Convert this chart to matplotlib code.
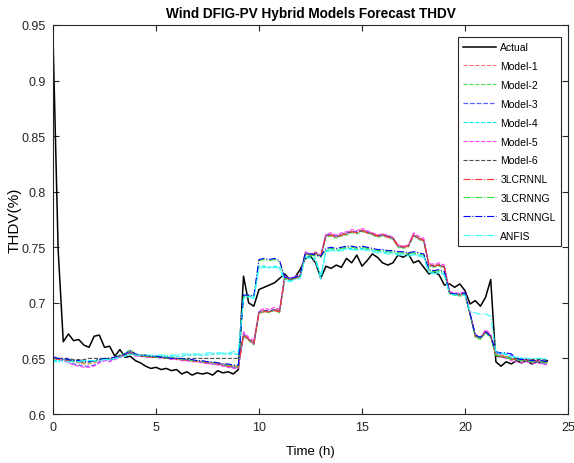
import numpy as np
import matplotlib
matplotlib.use("Agg")
import matplotlib.pyplot as plt
from matplotlib.ticker import FuncFormatter

plt.rcParams['font.family'] = ['Liberation Sans', 'DejaVu Sans']

# time in hours, 15-minute resolution
time_h = np.arange(0, 97) * 0.25

actual = [
    0.940, 0.748, 0.665, 0.672,
    0.666, 0.667, 0.662, 0.660,
    0.670, 0.671, 0.660, 0.661,
    0.652, 0.658, 0.651, 0.652,
    0.648, 0.646, 0.643, 0.641,
    0.642, 0.640, 0.641, 0.639,
    0.640, 0.636, 0.638, 0.635,
    0.637, 0.636, 0.637, 0.635,
    0.639, 0.637, 0.638, 0.636,
    0.640, 0.724, 0.700, 0.697,
    0.712, 0.714, 0.716, 0.718,
    0.722, 0.726, 0.721, 0.723,
    0.730, 0.740, 0.742, 0.736,
    0.722, 0.733, 0.731, 0.734,
    0.732, 0.740, 0.736, 0.743,
    0.733, 0.738, 0.744, 0.741,
    0.736, 0.734, 0.736, 0.743,
    0.741, 0.744, 0.736, 0.738,
    0.732, 0.726, 0.728, 0.725,
    0.716, 0.717, 0.714, 0.717,
    0.711, 0.699, 0.702, 0.697,
    0.705, 0.721, 0.647, 0.643,
    0.647, 0.645, 0.648, 0.646,
    0.648, 0.645, 0.647, 0.646,
    0.648]

model1 = [
    0.651, 0.650, 0.650, 0.649, 0.647, 0.646, 0.645, 0.645,
    0.646, 0.648, 0.649, 0.649, 0.650, 0.652, 0.654, 0.657,
    0.653, 0.653, 0.652, 0.652, 0.652, 0.651, 0.651, 0.650,
    0.650, 0.649, 0.649, 0.648, 0.648, 0.647, 0.647, 0.646,
    0.646, 0.645, 0.644, 0.643, 0.643, 0.673, 0.668, 0.665,
    0.692, 0.694, 0.692, 0.695, 0.693, 0.724, 0.721, 0.723,
    0.725, 0.745, 0.744, 0.746, 0.742, 0.761, 0.762, 0.760,
    0.762, 0.763, 0.765, 0.764, 0.766, 0.764, 0.763, 0.761,
    0.762, 0.760, 0.759, 0.752, 0.751, 0.752, 0.762, 0.759,
    0.757, 0.735, 0.734, 0.735, 0.733, 0.710, 0.708, 0.708,
    0.709, 0.690, 0.671, 0.668, 0.675, 0.671, 0.654, 0.653,
    0.652, 0.650, 0.650, 0.649, 0.649, 0.648, 0.648, 0.647,
    0.646]

model2 = [
    0.650, 0.649, 0.649, 0.648, 0.647, 0.647, 0.646, 0.646,
    0.647, 0.649, 0.650, 0.649, 0.651, 0.653, 0.655, 0.658,
    0.654, 0.653, 0.653, 0.652, 0.652, 0.652, 0.651, 0.651,
    0.650, 0.650, 0.649, 0.648, 0.648, 0.647, 0.646, 0.646,
    0.645, 0.644, 0.643, 0.642, 0.642, 0.670, 0.666, 0.662,
    0.690, 0.692, 0.691, 0.693, 0.691, 0.722, 0.720, 0.722,
    0.723, 0.744, 0.742, 0.744, 0.741, 0.759, 0.760, 0.758,
    0.760, 0.761, 0.763, 0.762, 0.764, 0.763, 0.761, 0.759,
    0.760, 0.759, 0.757, 0.750, 0.749, 0.750, 0.760, 0.757,
    0.755, 0.733, 0.732, 0.733, 0.731, 0.708, 0.707, 0.706,
    0.707, 0.689, 0.669, 0.667, 0.673, 0.669, 0.653, 0.652,
    0.651, 0.649, 0.649, 0.648, 0.648, 0.647, 0.647, 0.646,
    0.645]

model3 = [
    0.651, 0.650, 0.649, 0.647, 0.645, 0.644, 0.643, 0.643,
    0.644, 0.647, 0.649, 0.648, 0.650, 0.652, 0.653, 0.656,
    0.653, 0.653, 0.652, 0.652, 0.651, 0.651, 0.650, 0.650,
    0.650, 0.649, 0.648, 0.648, 0.647, 0.647, 0.646, 0.645,
    0.645, 0.644, 0.643, 0.642, 0.642, 0.672, 0.667, 0.663,
    0.692, 0.693, 0.693, 0.694, 0.692, 0.723, 0.722, 0.723,
    0.724, 0.745, 0.743, 0.745, 0.742, 0.762, 0.761, 0.760,
    0.761, 0.763, 0.764, 0.764, 0.765, 0.764, 0.762, 0.760,
    0.761, 0.760, 0.758, 0.751, 0.750, 0.751, 0.761, 0.758,
    0.756, 0.734, 0.733, 0.734, 0.732, 0.709, 0.708, 0.707,
    0.708, 0.690, 0.670, 0.668, 0.674, 0.670, 0.655, 0.654,
    0.654, 0.653, 0.649, 0.648, 0.648, 0.647, 0.647, 0.646,
    0.645]

model4 = [
    0.648, 0.648, 0.648, 0.648, 0.648, 0.648, 0.648, 0.648,
    0.648, 0.649, 0.649, 0.649, 0.650, 0.651, 0.652, 0.654,
    0.653, 0.652, 0.652, 0.652, 0.652, 0.652, 0.652, 0.652,
    0.652, 0.652, 0.653, 0.653, 0.653, 0.653, 0.653, 0.654,
    0.654, 0.654, 0.654, 0.654, 0.654, 0.705, 0.706, 0.705,
    0.733, 0.733, 0.732, 0.733, 0.732, 0.721, 0.720, 0.722,
    0.723, 0.742, 0.741, 0.740, 0.724, 0.747, 0.748, 0.747,
    0.748, 0.749, 0.749, 0.748, 0.749, 0.748, 0.747, 0.746,
    0.746, 0.745, 0.745, 0.744, 0.744, 0.743, 0.744, 0.743,
    0.742, 0.728, 0.727, 0.728, 0.726, 0.709, 0.708, 0.708,
    0.708, 0.690, 0.671, 0.669, 0.673, 0.670, 0.655, 0.655,
    0.653, 0.651, 0.650, 0.650, 0.650, 0.649, 0.650, 0.649,
    0.649]

model5 = [
    0.652, 0.650, 0.648, 0.646, 0.644, 0.643, 0.642, 0.642,
    0.643, 0.646, 0.648, 0.647, 0.649, 0.651, 0.653, 0.656,
    0.652, 0.652, 0.651, 0.651, 0.651, 0.650, 0.650, 0.649,
    0.649, 0.648, 0.648, 0.647, 0.647, 0.646, 0.645, 0.645,
    0.644, 0.643, 0.642, 0.641, 0.641, 0.674, 0.669, 0.666,
    0.693, 0.695, 0.694, 0.696, 0.694, 0.724, 0.722, 0.724,
    0.725, 0.746, 0.744, 0.745, 0.743, 0.762, 0.763, 0.761,
    0.763, 0.764, 0.766, 0.765, 0.767, 0.765, 0.763, 0.761,
    0.762, 0.761, 0.759, 0.752, 0.751, 0.752, 0.763, 0.760,
    0.758, 0.735, 0.735, 0.736, 0.734, 0.710, 0.709, 0.709,
    0.710, 0.691, 0.672, 0.669, 0.676, 0.672, 0.653, 0.651,
    0.650, 0.648, 0.647, 0.646, 0.647, 0.645, 0.646, 0.645,
    0.644]

model6 = [
    0.650, 0.650, 0.650, 0.650, 0.649, 0.649, 0.649, 0.650,
    0.650, 0.650, 0.650, 0.650, 0.651, 0.652, 0.653, 0.655,
    0.653, 0.652, 0.652, 0.651, 0.651, 0.651, 0.650, 0.650,
    0.650, 0.650, 0.650, 0.650, 0.650, 0.650, 0.650, 0.650,
    0.650, 0.650, 0.650, 0.650, 0.650, 0.671, 0.667, 0.664,
    0.691, 0.693, 0.692, 0.694, 0.692, 0.723, 0.721, 0.722,
    0.724, 0.744, 0.743, 0.745, 0.742, 0.760, 0.761, 0.759,
    0.761, 0.762, 0.764, 0.763, 0.765, 0.763, 0.762, 0.760,
    0.761, 0.760, 0.758, 0.751, 0.750, 0.751, 0.761, 0.758,
    0.756, 0.734, 0.733, 0.734, 0.732, 0.709, 0.708, 0.707,
    0.708, 0.690, 0.670, 0.668, 0.674, 0.670, 0.652, 0.651,
    0.651, 0.650, 0.650, 0.649, 0.650, 0.649, 0.649, 0.649,
    0.648]

lcrnnl = [
    0.650, 0.649, 0.649, 0.648, 0.648, 0.647, 0.646, 0.647,
    0.648, 0.649, 0.650, 0.650, 0.651, 0.652, 0.654, 0.656,
    0.653, 0.652, 0.652, 0.651, 0.651, 0.651, 0.650, 0.650,
    0.649, 0.649, 0.648, 0.648, 0.647, 0.647, 0.646, 0.646,
    0.645, 0.644, 0.643, 0.643, 0.642, 0.671, 0.667, 0.663,
    0.691, 0.692, 0.692, 0.693, 0.692, 0.722, 0.721, 0.722,
    0.724, 0.744, 0.743, 0.744, 0.742, 0.760, 0.761, 0.759,
    0.761, 0.762, 0.764, 0.763, 0.765, 0.763, 0.762, 0.760,
    0.761, 0.759, 0.758, 0.751, 0.750, 0.751, 0.761, 0.758,
    0.756, 0.734, 0.733, 0.734, 0.732, 0.709, 0.708, 0.707,
    0.708, 0.690, 0.670, 0.668, 0.674, 0.670, 0.653, 0.652,
    0.651, 0.649, 0.649, 0.648, 0.649, 0.647, 0.648, 0.647,
    0.646]

lcrnng = [
    0.650, 0.650, 0.649, 0.649, 0.648, 0.647, 0.647, 0.647,
    0.648, 0.649, 0.650, 0.650, 0.651, 0.652, 0.654, 0.657,
    0.653, 0.653, 0.652, 0.652, 0.651, 0.651, 0.650, 0.650,
    0.650, 0.649, 0.649, 0.648, 0.648, 0.647, 0.647, 0.646,
    0.646, 0.645, 0.644, 0.644, 0.643, 0.706, 0.707, 0.706,
    0.738, 0.739, 0.738, 0.739, 0.737, 0.722, 0.721, 0.723,
    0.724, 0.744, 0.743, 0.742, 0.741, 0.748, 0.749, 0.748,
    0.749, 0.750, 0.750, 0.749, 0.750, 0.749, 0.748, 0.747,
    0.747, 0.746, 0.746, 0.745, 0.745, 0.744, 0.745, 0.744,
    0.743, 0.729, 0.728, 0.729, 0.727, 0.708, 0.707, 0.707,
    0.708, 0.689, 0.670, 0.668, 0.673, 0.669, 0.653, 0.652,
    0.651, 0.649, 0.649, 0.648, 0.648, 0.647, 0.647, 0.647,
    0.646]

lcrnngl = [
    0.651, 0.650, 0.650, 0.649, 0.648, 0.648, 0.647, 0.647,
    0.648, 0.649, 0.650, 0.650, 0.651, 0.653, 0.654, 0.657,
    0.654, 0.653, 0.653, 0.652, 0.652, 0.651, 0.651, 0.650,
    0.650, 0.650, 0.649, 0.649, 0.648, 0.648, 0.647, 0.647,
    0.646, 0.645, 0.645, 0.644, 0.644, 0.707, 0.707, 0.706,
    0.739, 0.740, 0.739, 0.740, 0.738, 0.723, 0.722, 0.723,
    0.725, 0.745, 0.744, 0.743, 0.742, 0.749, 0.750, 0.749,
    0.750, 0.751, 0.751, 0.750, 0.751, 0.750, 0.749, 0.748,
    0.748, 0.747, 0.747, 0.746, 0.746, 0.745, 0.746, 0.745,
    0.744, 0.730, 0.729, 0.730, 0.728, 0.709, 0.708, 0.708,
    0.709, 0.690, 0.671, 0.669, 0.674, 0.670, 0.656, 0.655,
    0.655, 0.654, 0.650, 0.649, 0.649, 0.648, 0.648, 0.648,
    0.647]

anfis = [
    0.647, 0.647, 0.647, 0.647, 0.647, 0.647, 0.648, 0.648,
    0.648, 0.648, 0.649, 0.649, 0.650, 0.651, 0.652, 0.654,
    0.653, 0.653, 0.653, 0.653, 0.653, 0.653, 0.653, 0.653,
    0.653, 0.654, 0.654, 0.654, 0.654, 0.654, 0.655, 0.655,
    0.655, 0.655, 0.655, 0.656, 0.656, 0.704, 0.705, 0.704,
    0.731, 0.732, 0.731, 0.732, 0.731, 0.720, 0.719, 0.721,
    0.722, 0.741, 0.740, 0.738, 0.721, 0.746, 0.747, 0.746,
    0.747, 0.748, 0.748, 0.747, 0.748, 0.747, 0.746, 0.745,
    0.745, 0.744, 0.744, 0.743, 0.743, 0.742, 0.743, 0.742,
    0.741, 0.727, 0.726, 0.727, 0.725, 0.708, 0.707, 0.707,
    0.707, 0.692, 0.691, 0.690, 0.690, 0.688, 0.656, 0.655,
    0.654, 0.652, 0.651, 0.651, 0.650, 0.650, 0.650, 0.650,
    0.650]

labels = ["Actual", "Model-1", "Model-2", "Model-3", "Model-4", "Model-5",
          "Model-6", "3LCRNNL", "3LCRNNG", "3LCRNNGL", "ANFIS"]
series = [actual, model1, model2, model3, model4, model5, model6,
          lcrnnl, lcrnng, lcrnngl, anfis]
colors = ["#000000", "#ff7070", "#50dd50", "#6060ff", "#00f0f0", "#ff40ff",
          "#505050", "#ff3030", "#30e030", "#0000ff", "#30ffff"]
styles = ["-", "--", "--", "--", "--", "--", "--", "-.", "-.", "-.", "-."]
widths = [1.1, 0.8, 0.8, 0.9, 0.8, 0.8, 0.8, 0.8, 0.8, 0.8, 0.8]

fig = plt.figure(figsize=(5.74, 4.64), dpi=100)
ax = fig.add_axes([0.0923, 0.1056, 0.8972, 0.8384])

for y, lab, c, ls, lw in zip(series, labels, colors, styles, widths):
    ax.plot(time_h, y, ls, color=c, lw=lw, label=lab)

ax.set_xlim(0, 25)
ax.set_ylim(0.6, 0.95)
ax.set_xticks([0, 5, 10, 15, 20, 25])
ax.set_yticks([0.6, 0.65, 0.7, 0.75, 0.8, 0.85, 0.9, 0.95])
ax.yaxis.set_major_formatter(FuncFormatter(lambda v, p: f"{v:g}"))
ax.tick_params(direction='in', top=True, right=True, length=4, width=0.8,
               labelsize=9, colors='#262626', pad=5)
for s in ax.spines.values():
    s.set_linewidth(0.8)
    s.set_color('#262626')

ax.set_title("Wind DFIG-PV Hybrid Models Forecast THDV", fontsize=9.8,
             fontweight='bold', pad=6)
ax.set_xlabel("Time (h)", fontsize=9.5, labelpad=9)
ax.set_ylabel("THDV(%)", fontsize=11, labelpad=0)

leg = ax.legend(loc='upper right', bbox_to_anchor=(0.9864, 0.969),
                fontsize=7.5, handlelength=3.2, labelspacing=0.85,
                fancybox=False, framealpha=1, edgecolor='#262626',
                borderaxespad=0.0, handletextpad=0.4, borderpad=0.5)
leg.get_frame().set_linewidth(0.8)

fig.savefig("out.png", dpi=100)
